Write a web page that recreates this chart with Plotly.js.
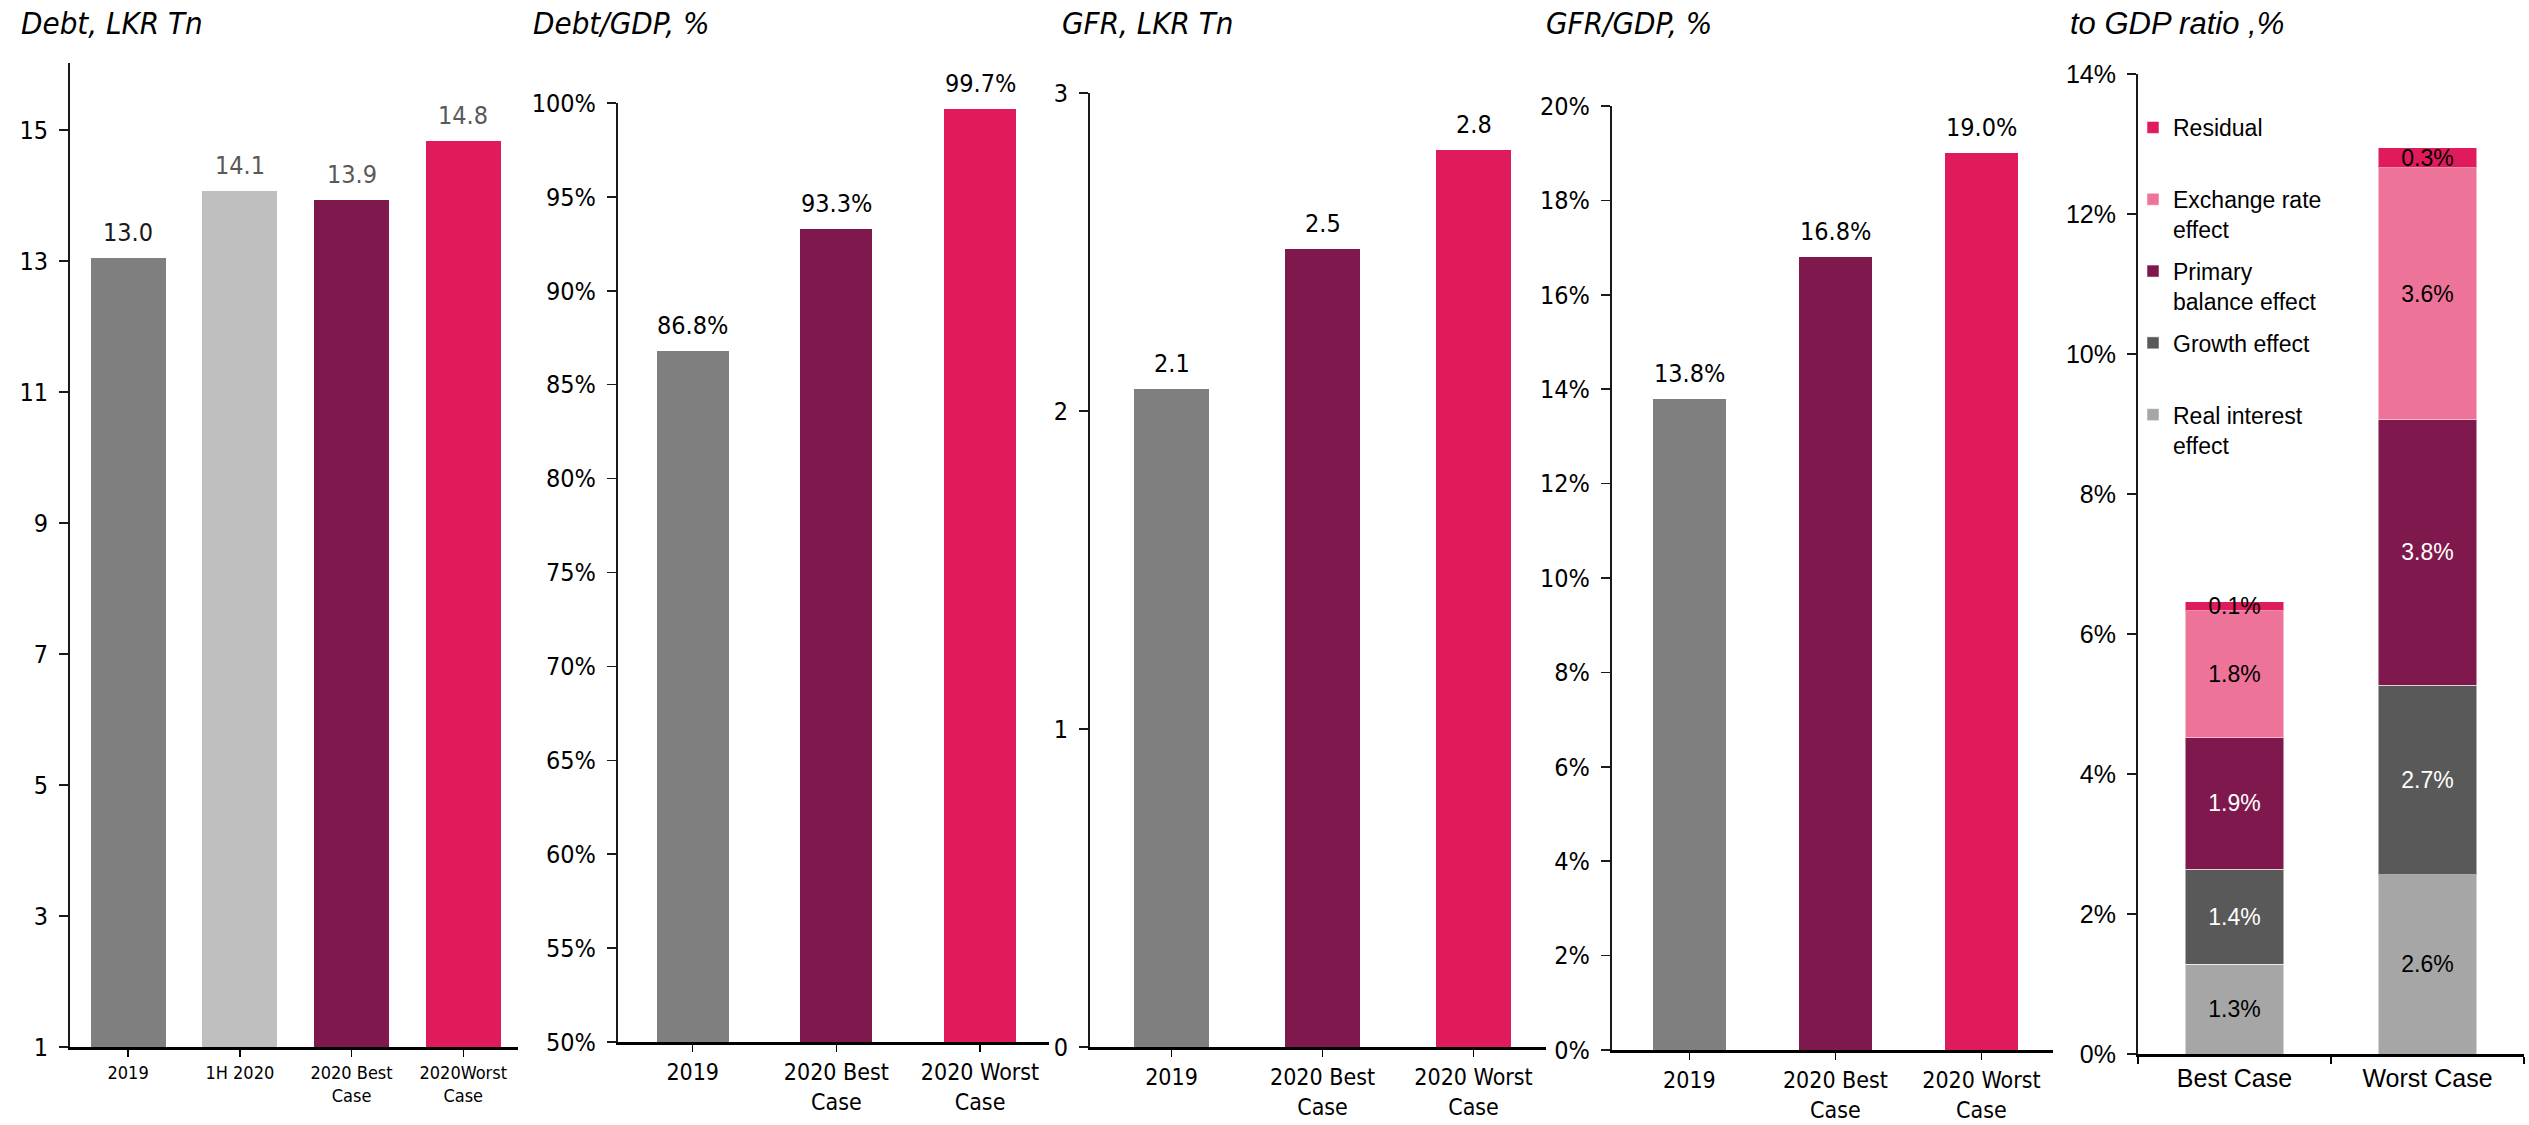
<!DOCTYPE html>
<html>
<head>
<meta charset="utf-8">
<script src="https://cdn.plot.ly/plotly-3.0.1.min.js"></script>
<style>html,body{margin:0;padding:0;background:#fff;}#chart{width:2529px;height:1125px;}</style>
</head>
<body>
<div id="chart"></div>
<script>
// ---------- DATA ----------
const debtCategories = ['2019', '1H 2020', '2020 Best<br>Case', '2020Worst<br>Case'];
const debtValues = [13.04, 14.07, 13.93, 14.83];

const scenarioCategories = ['2019', '2020 Best<br>Case', '2020 Worst<br>Case'];
const debtGdpValues = [86.8, 93.3, 99.7];
const gfrValues = [2.07, 2.51, 2.82];
const gfrGdpValues = [13.8, 16.8, 19.0];

const caseCategories = ['Best Case', 'Worst Case'];
const realInterestEffect = [1.28, 2.56];
const growthEffect = [1.36, 2.71];
const primaryBalanceEffect = [1.88, 3.79];
const exchangeRateEffect = [1.81, 3.60];
const residualEffect = [0.13, 0.29];

const titleTexts = ['Debt, LKR Tn', 'Debt/GDP, %', 'GFR, LKR Tn', 'GFR/GDP, %', 'to GDP ratio ,%'];
const legendNames = ['Real interest<br>effect', 'Growth effect<br>&nbsp;', 'Primary<br>balance effect', 'Exchange rate<br>effect', 'Residual<br>&nbsp;'];

// ---------- STYLE ----------
const NARROW = '"Liberation Sans Narrow", "Arial Narrow", "DejaVu Sans Condensed", sans-serif';
const ARIAL = '"Liberation Sans", Arial, sans-serif';
const W = 2529, H = 1125;
const GRAY = '#7f7f7f', LIGHT = '#bfbfbf', PLUM = '#7f184c', PINK = '#e01b5c';
const fx = px => px / W;
const fy = px => 1 - px / H;

const traces = [];
const annotations = [];

function xAxis(domain, range, fontSize, fontFam, tickson) {
  return {
    domain: domain, range: range, type: 'category',
    showline: true, linecolor: '#000', linewidth: 3,
    ticks: 'outside', ticklen: 7, tickwidth: 1.5, tickcolor: '#000',
    tickson: tickson || 'labels',
    showgrid: false, zeroline: false, fixedrange: true,
    tickfont: {family: fontFam, size: fontSize, color: '#000'},
    ticklabelstandoff: 0
  };
}
function yAxis(domain, range, anchor, tick0, dtick, suffix, fontFam, fontSize) {
  return {
    domain: domain, range: range, anchor: anchor,
    showline: true, linecolor: '#1a1a1a', linewidth: 2,
    ticks: 'outside', ticklen: 9, tickwidth: 1.5, tickcolor: '#1a1a1a',
    tick0: tick0, dtick: dtick, ticksuffix: suffix || '',
    showgrid: false, zeroline: false, fixedrange: true,
    tickfont: {family: fontFam, size: fontSize, color: '#000'},
    ticklabelstandoff: 6
  };
}

function addLabels(xa, ya, values, fmt, colors) {
  values.forEach((v, i) => annotations.push({xref: xa, yref: ya, x: i, y: v,
    text: fmt(v), showarrow: false, yanchor: 'bottom', yshift: 9,
    font: {family: NARROW, size: 25, color: colors ? colors[i] : '#000'}}));
}

// Panel 1 : Debt, LKR Tn
traces.push({type: 'bar', x: debtCategories, y: debtValues, xaxis: 'x', yaxis: 'y',
  marker: {color: [GRAY, LIGHT, PLUM, PINK]}, showlegend: false, hoverinfo: 'skip', width: 0.67});
addLabels('x', 'y', debtValues, v => v.toFixed(1), ['#1a1a1a', '#595959', '#595959', '#595959']);

// Panel 2 : Debt/GDP
traces.push({type: 'bar', x: scenarioCategories, y: debtGdpValues, xaxis: 'x2', yaxis: 'y2',
  marker: {color: [GRAY, PLUM, PINK]}, showlegend: false, hoverinfo: 'skip', width: 0.5});
addLabels('x2', 'y2', debtGdpValues, v => v.toFixed(1) + '%');

// Panel 3 : GFR
traces.push({type: 'bar', x: scenarioCategories, y: gfrValues, xaxis: 'x3', yaxis: 'y3',
  marker: {color: [GRAY, PLUM, PINK]}, showlegend: false, hoverinfo: 'skip', width: 0.5});
addLabels('x3', 'y3', gfrValues, v => v.toFixed(1));

// Panel 4 : GFR/GDP
traces.push({type: 'bar', x: scenarioCategories, y: gfrGdpValues, xaxis: 'x4', yaxis: 'y4',
  marker: {color: [GRAY, PLUM, PINK]}, showlegend: false, hoverinfo: 'skip', width: 0.5});
addLabels('x4', 'y4', gfrGdpValues, v => v.toFixed(1) + '%');

// Panel 5 : stacked decomposition
const stackSeries = [realInterestEffect, growthEffect, primaryBalanceEffect, exchangeRateEffect, residualEffect];
const stackColors = ['#a6a6a6', '#595959', PLUM, '#ee7399', PINK];
const stackTextColors = ['#000', '#fff', '#fff', '#000', '#000'];
stackSeries.forEach((vals, k) => traces.push({
  type: 'bar', x: caseCategories, y: vals, xaxis: 'x5', yaxis: 'y5', name: legendNames[k],
  legendgroup: 'g' + k, legendrank: 10 - k, width: 0.51,
  marker: {color: stackColors[k], line: {color: 'rgba(255,255,255,0.5)', width: 1}},
  texttemplate: '%{y:.1f}%', textposition: 'inside', insidetextanchor: 'middle',
  constraintext: 'none', cliponaxis: false,
  textfont: {family: ARIAL, size: 23, color: stackTextColors[k]},
  hoverinfo: 'skip'
}));

// Titles
const titlePos = [[19, NARROW], [531, NARROW], [1060, NARROW], [1544, NARROW], [2068, ARIAL]];
titleTexts.forEach((t, i) => annotations.push({xref: 'paper', yref: 'paper', x: fx(titlePos[i][0]), y: fy(23),
  xanchor: 'left', yanchor: 'middle', showarrow: false, text: '<i>' + t + '</i>',
  font: {family: titlePos[i][1], size: 31, color: '#000'}}));

const layout = {
  width: W, height: H, margin: {l: 0, r: 0, t: 0, b: 0},
  paper_bgcolor: '#fff', plot_bgcolor: 'rgba(0,0,0,0)',
  barmode: 'stack', showlegend: true,
  legend: {x: fx(2133), y: fy(106), xanchor: 'left', yanchor: 'top', traceorder: 'grouped',
    tracegroupgap: 9, valign: 'top', bgcolor: 'rgba(0,0,0,0)', itemwidth: 30,
    font: {family: ARIAL, size: 23, color: '#000'}},
  xaxis: xAxis([fx(70), fx(518)], [-0.52, 3.49], 18, NARROW),
  yaxis: yAxis([fy(1047), fy(63)], [1, 16.02], 'x', 1, 2, '', NARROW, 25),
  xaxis2: Object.assign(xAxis([fx(618), fx(1049)], [-0.52, 2.48], 23, NARROW), {anchor: 'y2'}),
  yaxis2: yAxis([fy(1042), fy(103)], [50, 100], 'x2', 50, 5, '%', NARROW, 25),
  xaxis3: Object.assign(xAxis([fx(1090), fx(1546)], [-0.54, 2.48], 23, NARROW), {anchor: 'y3'}),
  yaxis3: yAxis([fy(1047), fy(93)], [0, 3], 'x3', 0, 1, '', NARROW, 25),
  xaxis4: Object.assign(xAxis([fx(1612), fx(2053)], [-0.53, 2.49], 23, NARROW), {anchor: 'y4'}),
  yaxis4: yAxis([fy(1050), fy(106)], [0, 20], 'x4', 0, 2, '%', NARROW, 25),
  xaxis5: Object.assign(xAxis([fx(2138), fx(2524)], [-0.5, 1.5], 25, ARIAL, 'boundaries'), {anchor: 'y5'}),
  yaxis5: yAxis([fy(1054), fy(74)], [0, 14], 'x5', 0, 2, '%', ARIAL, 25),
  annotations: annotations
};
layout.xaxis.anchor = 'y';

Plotly.newPlot('chart', traces, layout, {staticPlot: true, displayModeBar: false});
</script>
</body>
</html>
